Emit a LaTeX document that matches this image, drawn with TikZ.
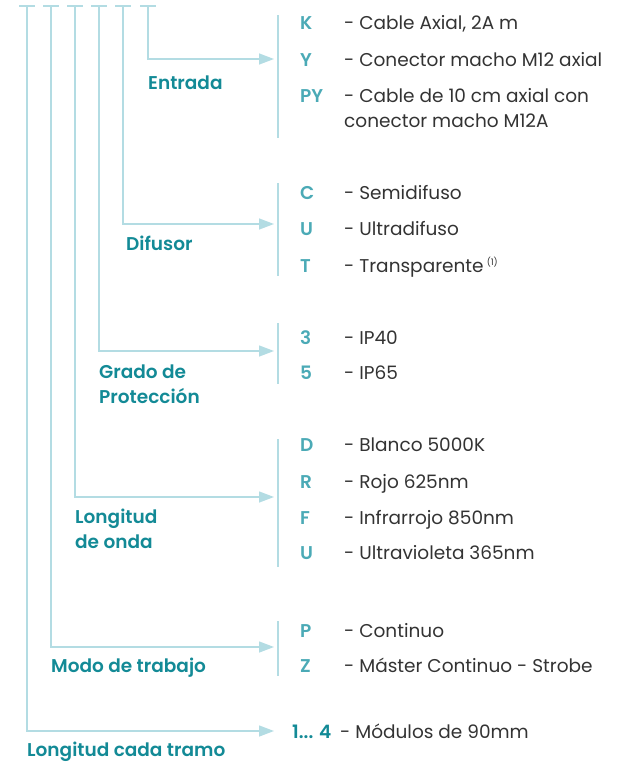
\documentclass[tikz,border=0pt]{standalone}
\usepackage{fontspec}
\setmainfont{Poppins}[BoldFont=Poppins SemiBold]
\usetikzlibrary{arrows.meta}
\definecolor{linec}{HTML}{B3DCE3}
\definecolor{labc}{HTML}{138A96}
\definecolor{codec}{HTML}{4BAAB6}
\definecolor{descc}{HTML}{333333}
\newcommand\row[4]{%
  \node[code] (c#1) at (300,#2) {#3};
  \node[desc] (d#1) at (344,#2) {#4};}
\begin{document}
\begin{tikzpicture}[x=1pt,y=-1pt,
  conn/.style={draw=linec,line width=1.4pt},
  arr/.style={conn,-{Triangle[length=15pt,width=11pt]}},
  bar/.style={draw=linec,line width=1.2pt},
  lab/.style={text=labc,font=\fontsize{18.5}{25}\selectfont\bfseries,align=left,anchor=west,inner sep=0pt},
  code/.style={text=codec,font=\fontsize{18.5}{22}\selectfont\bfseries,anchor=base west,inner sep=0pt},
  desc/.style={text=descc,font=\fontsize{18.5}{25}\selectfont,align=left,anchor=base west,inner sep=0pt}]
\useasboundingbox (0,0) rectangle (622,766);
% top ticks
\foreach \n/\x in {1/27,2/51,3/75,4/99,5/123,6/148}{
  \coordinate (t\n) at (\x,6);
  \coordinate (tl\n) at (\x-8,6);
  \coordinate (tr\n) at (\x+8,6);
  \draw[conn] (tl\n) -- (tr\n);
}
% arrow ends
\coordinate (e6) at (274,59);
\coordinate (e5) at (274,224);
\coordinate (e4) at (274,351);
\coordinate (e3) at (274,497);
\coordinate (e2) at (274,647);
\coordinate (e1) at (274,731);
\foreach \n in {1,...,6}{\draw[arr] (t\n) |- (e\n);}
% bars
\coordinate (b6a) at (278,15);  \coordinate (b6b) at (278,138);
\coordinate (b5a) at (278,183); \coordinate (b5b) at (278,276);
\coordinate (b4a) at (278,323); \coordinate (b4b) at (278,384);
\coordinate (b3a) at (278,439); \coordinate (b3b) at (278,567);
\coordinate (b2a) at (278,621); \coordinate (b2b) at (278,676);
\foreach \n in {2,...,6}{\draw[bar] (b\n a) -- (b\n b);}
% labels
\node[lab] (lEnt) at (148,83) {Entrada};
\node[lab] (lDif) at (126,243) {Difusor};
\node[lab] (lGra) at (99,384) {Grado de\\Protección};
\node[lab] (lLon) at (75,529) {Longitud\\de onda};
\node[lab] (lMod) at (51,668) {Modo de trabajo};
\node[lab] (lCad) at (27,752) {Longitud cada tramo};
% codes and descriptions
\row{K}{29}{K}{- Cable Axial, 2A m}
\row{Y}{66}{Y}{- Conector macho M12 axial}
\node[code] (cPY) at (300,102) {PY};
\node[desc] (dPY) at (344,127) {- Cable de 10 cm axial con\\conector macho M12A};
\row{C}{199}{C}{- Semidifuso}
\row{U1}{235}{U}{- Ultradifuso}
\row{T}{272}{T}{- Transparente\,\raisebox{7pt}{\fontsize{9}{10}\selectfont(1)}}
\row{3}{344}{3}{- IP40}
\row{5}{379}{5}{- IP65}
\row{D}{451}{D}{- Blanco 5000K}
\row{R}{488}{R}{- Rojo 625nm}
\row{F}{524}{F}{- Infrarrojo 850nm}
\row{U2}{559}{U}{- Ultravioleta 365nm}
\row{P}{637}{P}{- Continuo}
\row{Z}{672}{Z}{- Máster Continuo - Strobe}
\node[code,text=labc] (c14) at (292,738) {1... 4};
\node[desc] (d14) at (340,738) {- Módulos de 90mm};
\end{tikzpicture}
\end{document}
